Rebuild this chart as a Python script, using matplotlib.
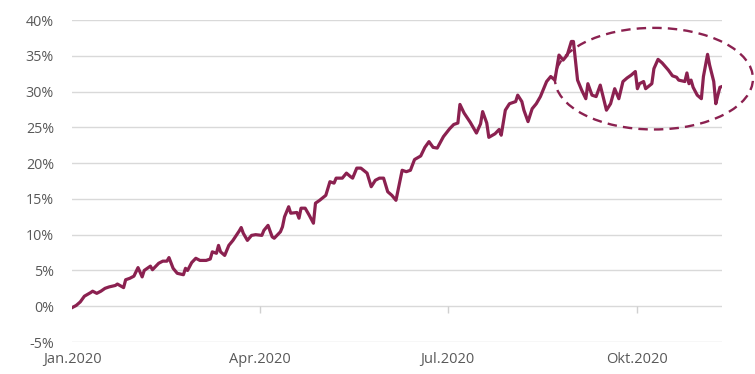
import matplotlib
matplotlib.use("Agg")
import matplotlib.pyplot as plt
import matplotlib.dates as mdates
from matplotlib.patches import Ellipse
from matplotlib.ticker import FuncFormatter
import pandas as pd

# Cumulative performance since the start of 2020 (days after 1 Jan 2020, percent)
day_offsets = [
    0, 2, 4, 6, 9, 10, 12, 14, 16, 18, 21, 22, 25, 26, 28, 30, 31, 32, 34, 35,
    38, 39, 42, 44, 46, 47, 49, 51, 54, 55, 56, 58, 60, 62, 65, 67, 68, 70, 71, 72,
    74, 76, 78, 81, 82, 83, 85, 87, 89, 92, 93, 95, 97, 98, 101, 102, 103, 105, 106, 109,
    110, 111, 113, 115, 117, 118, 120, 123, 125, 127, 128, 131, 133, 135, 136, 138, 140, 143, 145, 147,
    149, 151, 153, 155, 157, 160, 162, 164, 166, 169, 171, 173, 175, 177, 180, 183, 185, 187, 188, 190,
    193, 196, 198, 199, 201, 202, 205, 207, 208, 210, 212, 215, 216, 218, 219, 221, 223, 225, 227, 230,
    232, 234, 236, 238, 240, 242, 243, 245, 247, 249, 250, 252, 254, 256, 258, 259, 261, 263, 265, 267,
    269, 271, 273, 274, 275, 277, 278, 281, 282, 284, 286, 289, 291, 293, 294, 297, 298, 299, 300, 301,
    303, 305, 306, 308, 309, 311, 312, 313, 314, 315,
]
performance = [
    -0.2, 0.1, 0.6, 1.4, 1.9, 2.1, 1.8, 2.1, 2.5, 2.7, 2.9, 3.1, 2.6, 3.7, 3.9, 4.2, 4.8, 5.4, 4.1, 5.0,
    5.6, 5.1, 6.0, 6.3, 6.3, 6.8, 5.3, 4.6, 4.4, 5.3, 5.0, 6.1, 6.7, 6.4, 6.4, 6.6, 7.6, 7.4, 8.5, 7.6,
    7.1, 8.5, 9.2, 10.5, 11.0, 10.2, 9.2, 9.9, 10.0, 9.9, 10.6, 11.3, 9.7, 9.5, 10.4, 11.1, 12.5, 13.9, 13.0, 13.1,
    12.3, 13.7, 13.7, 12.7, 11.6, 14.4, 14.8, 15.5, 17.4, 17.2, 17.9, 17.9, 18.6, 18.1, 17.9, 19.3, 19.3, 18.6, 16.7, 17.6,
    17.9, 17.9, 16.0, 15.5, 14.8, 19.0, 18.8, 19.0, 20.5, 21.0, 22.2, 23.0, 22.2, 22.1, 23.7, 24.8, 25.4, 25.6, 28.2, 27.0,
    25.7, 24.2, 25.5, 27.2, 25.6, 23.6, 24.1, 24.7, 23.9, 27.4, 28.3, 28.6, 29.5, 28.6, 27.4, 25.8, 27.6, 28.3, 29.3, 31.4,
    32.1, 31.6, 35.1, 34.4, 35.1, 37.0, 37.0, 31.6, 30.2, 29.0, 31.1, 29.5, 29.3, 30.9, 28.6, 27.4, 28.3, 30.4, 29.0, 31.4,
    31.9, 32.3, 32.8, 30.4, 31.1, 31.4, 30.4, 31.1, 33.2, 34.5, 34.0, 33.0, 32.2, 32.0, 31.6, 31.4, 32.6, 31.1, 31.6, 30.6,
    29.5, 29.0, 32.1, 35.2, 33.7, 31.4, 28.3, 29.5, 30.6, 30.7,
]
tick_dates = ["2020-01-01", "2020-04-01", "2020-07-01", "2020-10-01"]
tick_labels = ["Jan.2020", "Apr.2020", "Jul.2020", "Okt.2020"]
y_ticks = [-5, 0, 5, 10, 15, 20, 25, 30, 35, 40]

start = pd.Timestamp("2020-01-01")
dates = start + pd.to_timedelta(day_offsets, unit="D")

line_color = "#8b2150"
text_color = "#595959"
grid_color = "#d9d9d9"

plt.rcParams["font.family"] = ["Open Sans", "DejaVu Sans"]

fig = plt.figure(figsize=(7.55, 3.74), dpi=100)
ax = fig.add_axes([72 / 755, 1 - 342 / 374, 650 / 755, 322 / 374])

ax.plot(dates, performance, color=line_color, lw=2.3, solid_joinstyle="round", zorder=3)

ax.set_ylim(-5, 40)
ax.set_xlim(dates[0], dates[-1])
ax.set_yticks(y_ticks)
ax.yaxis.set_major_formatter(FuncFormatter(lambda v, _: f"{v:.0f}%"))
ax.grid(axis="y", color=grid_color, lw=1.0)
ax.set_axisbelow(True)

tick_pos = pd.to_datetime(tick_dates)
ax.set_xticks(tick_pos)
ax.set_xticklabels(tick_labels)

for s in ax.spines.values():
    s.set_visible(False)
ax.tick_params(axis="y", length=0, pad=13, labelsize=10.3, labelcolor=text_color)
ax.tick_params(axis="x", length=0, pad=7, labelsize=10.5, labelcolor=text_color)

# small tick marks on the 0% axis line
for t in tick_pos[1:]:
    ax.vlines(t, -0.9, 0, color="#d0d0d0", lw=1.0, zorder=1)

# dashed ellipse highlighting the autumn consolidation
center_x = mdates.date2num(start + pd.Timedelta(days=282))
ell = Ellipse((center_x, 31.8), width=96, height=14.2, fill=False,
              edgecolor=line_color, lw=1.7, linestyle=(0, (4, 2.6)),
              clip_on=False, zorder=4)
ax.add_patch(ell)

fig.savefig("out.png", dpi=100, facecolor="white")
